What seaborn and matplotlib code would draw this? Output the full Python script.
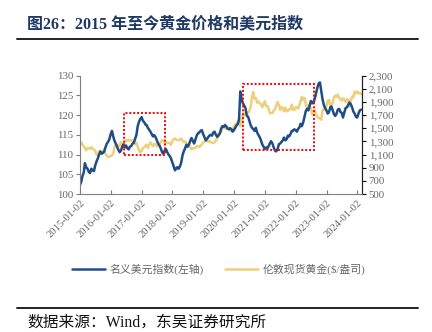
import numpy as np
import pandas as pd
import matplotlib
matplotlib.use("Agg")
import matplotlib.pyplot as plt
import matplotlib.dates as mdates
from matplotlib.patches import Rectangle
from matplotlib.lines import Line2D
import seaborn as sns

# ---------------- data (twice a month) ----------------
months = pd.date_range("2015-01-01", "2024-02-01", freq="MS")
dates = [d for m in months for d in (m, m + pd.Timedelta(days=15))]

usd_index = [
    102.3, 103.0, 104.6, 105.5, 107.8, 106.8, 106.4, 105.6, 105.3, 106.4, 106.0, 105.8,   # 2015 H1
    107.2, 108.2, 109.0, 110.0, 110.8, 110.2, 110.4, 110.8, 111.9, 112.8, 113.2, 113.9,   # 2015 H2
    115.2, 116.0, 114.5, 113.4, 112.8, 112.0, 111.2, 110.6, 111.0, 112.0, 112.6, 111.8,   # 2016 H1
    112.3, 111.6, 111.3, 112.0, 112.2, 112.8, 113.0, 114.0, 115.0, 117.2, 118.3, 119.0,   # 2016 H2
    119.5, 118.6, 118.2, 117.6, 117.5, 116.8, 116.3, 115.8, 115.2, 114.6, 114.9, 114.4,   # 2017 H1
    113.6, 112.8, 112.3, 111.6, 110.6, 110.2, 111.0, 111.4, 110.6, 110.0, 109.6, 109.0,   # 2017 H2
    108.0, 107.0, 106.0, 106.5, 106.8, 106.4, 107.0, 108.0, 109.8, 110.8, 111.6, 112.5,   # 2018 H1
    112.0, 112.5, 113.5, 114.2, 113.4, 112.8, 113.8, 114.8, 115.4, 115.6, 116.0, 116.2,   # 2018 H2
    115.2, 114.4, 113.6, 114.0, 114.4, 114.8, 115.0, 114.8, 115.6, 115.8, 115.0, 114.5,   # 2019 H1
    114.8, 115.3, 116.5, 117.2, 117.0, 117.5, 117.2, 116.6, 116.4, 116.7, 116.4, 115.8,   # 2019 H2
    116.2, 116.8, 117.4, 117.8, 118.8, 126.0, 124.0, 123.0, 122.4, 121.8, 119.8, 119.6,   # 2020 H1
    118.6, 117.5, 116.8, 116.5, 116.0, 116.8, 115.6, 115.0, 114.4, 113.6, 112.6, 112.0,   # 2020 H2
    111.4, 111.8, 111.6, 112.2, 112.8, 113.4, 112.8, 111.8, 111.0, 110.8, 111.4, 112.6,   # 2021 H1
    112.8, 113.2, 113.6, 114.3, 113.6, 113.9, 114.8, 114.6, 115.2, 116.0, 116.0, 116.4,   # 2021 H2
    116.2, 115.8, 116.6, 116.9, 117.8, 117.2, 118.2, 119.6, 121.0, 121.6, 121.2, 122.4,   # 2022 H1
    123.6, 123.0, 123.2, 124.2, 125.6, 127.0, 128.0, 128.3, 126.0, 124.0, 122.6, 121.8,   # 2022 H2
    121.2, 120.4, 120.8, 122.0, 122.2, 121.2, 120.2, 119.8, 120.4, 121.4, 121.6, 120.8,   # 2023 H1
    120.6, 119.4, 120.6, 121.8, 122.0, 122.6, 123.2, 122.8, 122.0, 120.9, 120.4, 119.6,   # 2023 H2
    119.4, 120.4, 121.2, 121.4,                                                           # 2024
]

gold_price = [
    1230, 1285, 1260, 1220, 1200, 1165, 1200, 1195, 1185, 1215, 1185, 1180,   # 2015 H1
    1160, 1100, 1090, 1150, 1135, 1130, 1140, 1175, 1110, 1080, 1065, 1070,   # 2015 H2
    1075, 1090, 1120, 1220, 1250, 1240, 1225, 1240, 1290, 1260, 1215, 1290,   # 2016 H1
    1320, 1310, 1325, 1315, 1310, 1320, 1300, 1255, 1280, 1220, 1170, 1140,   # 2016 H2
    1150, 1195, 1210, 1235, 1250, 1200, 1250, 1285, 1255, 1230, 1265, 1255,   # 2017 H1
    1225, 1235, 1265, 1285, 1320, 1310, 1275, 1290, 1275, 1280, 1275, 1250,   # 2017 H2
    1310, 1335, 1345, 1325, 1320, 1320, 1330, 1345, 1310, 1290, 1295, 1275,   # 2018 H1
    1250, 1235, 1215, 1180, 1200, 1195, 1200, 1225, 1230, 1215, 1235, 1250,   # 2018 H2
    1285, 1295, 1315, 1320, 1290, 1305, 1295, 1275, 1280, 1285, 1315, 1345,   # 2019 H1
    1415, 1415, 1440, 1510, 1525, 1505, 1490, 1495, 1510, 1470, 1460, 1480,   # 2019 H2
    1525, 1555, 1575, 1595, 1640, 1530, 1590, 1720, 1700, 1740, 1740, 1730,   # 2020 H1
    1770, 1810, 1970, 2050, 1950, 1960, 1890, 1910, 1880, 1870, 1820, 1860,   # 2020 H2
    1910, 1840, 1840, 1790, 1730, 1730, 1730, 1770, 1790, 1840, 1900, 1860,   # 2021 H1
    1780, 1820, 1810, 1760, 1815, 1760, 1760, 1790, 1790, 1860, 1780, 1780,   # 2021 H2
    1820, 1820, 1800, 1860, 1910, 1980, 1930, 1960, 1870, 1820, 1850, 1830,   # 2022 H1
    1810, 1710, 1760, 1780, 1710, 1670, 1660, 1650, 1630, 1770, 1790, 1790,   # 2022 H2
    1840, 1920, 1930, 1840, 1830, 1900, 1970, 2000, 1980, 2010, 1960, 1950,   # 2023 H1
    1920, 1955, 1940, 1900, 1940, 1930, 1830, 1920, 1980, 1970, 2060, 2030,   # 2023 H2
    2060, 2030, 2040, 2020,                                                   # 2024
]

year_ticks = [f"{y}-01-02" for y in range(2015, 2025)]
left_ticks = [100, 105, 110, 115, 120, 125, 130]
right_ticks = [500, 700, 900, 1100, 1300, 1500, 1700, 1900, 2100, 2300]

label_usd = "名义美元指数(左轴)"
label_gold = "伦敦现货黄金($/盎司)"
title = "图26：2015 年至今黄金价格和美元指数"
source = "数据来源：Wind，东吴证券研究所"

# highlighted periods (date range, left-axis value range)
box1 = ("2016-06-06", "2017-10-05", 110.0, 120.5)
box2 = ("2020-04-13", "2022-08-10", 111.2, 128.0)

df = pd.DataFrame({"date": dates, "usd": usd_index, "gold": gold_price})

# ---------------- style ----------------
sns.set_theme(style="white")
plt.rcParams["font.family"] = ["Liberation Serif", "Noto Sans CJK SC", "DejaVu Sans"]

BLUE = "#1F4E86"
GOLD = "#EDCF7C"
GREY = "#666666"

fig = plt.figure(figsize=(4.32, 3.32), dpi=100)
ax = fig.add_axes([80 / 432, 1 - 194 / 332, (361.7 - 80) / 432, (194 - 75.7) / 332])
ax2 = ax.twinx()

sns.lineplot(data=df, x="date", y="gold", ax=ax2, color=GOLD, lw=1.8, legend=False)
sns.lineplot(data=df, x="date", y="usd", ax=ax, color=BLUE, lw=1.8, legend=False)
ax.set_zorder(ax2.get_zorder() + 1)
ax.patch.set_visible(False)

ax.set_xlim(pd.Timestamp("2015-01-02"), pd.Timestamp("2024-02-23"))
ax.set_ylim(100, 130)
ax2.set_ylim(500, 2300)
ax.set_yticks(left_ticks)
ax.set_yticklabels([str(v) for v in left_ticks])
ax2.set_yticks(right_ticks)
ax2.set_yticklabels([f"{v:,}" for v in right_ticks])
ax.set_xticks([pd.Timestamp(t) for t in year_ticks])
ax.set_xticklabels(year_ticks, rotation=45, ha="right", rotation_mode="anchor")
ax.set_xlabel("")
ax.set_ylabel("")
ax2.set_ylabel("")

for a in (ax, ax2):
    a.spines["top"].set_visible(False)
    a.grid(False)
ax.spines["left"].set_color("#7f7f7f")
ax.spines["bottom"].set_color("#7f7f7f")
ax2.spines["right"].set_color("#000000")
ax2.spines["left"].set_visible(False)
ax2.spines["bottom"].set_visible(False)
for s in ax.spines.values():
    s.set_linewidth(0.8)
ax2.spines["right"].set_linewidth(0.8)

ax.tick_params(axis="y", direction="out", length=3, width=0.8, color="#7f7f7f",
               labelsize=7.8, labelcolor=GREY, pad=2, left=True)
ax.tick_params(axis="x", direction="in", length=3, width=0.8, color="#7f7f7f",
               labelsize=7.6, labelcolor=GREY, pad=3, bottom=True)
ax2.tick_params(axis="y", direction="out", length=3, width=0.8, color="#000000",
                labelsize=7.8, labelcolor=GREY, pad=2, right=True)

# red dotted highlight boxes
for b in (box1, box2):
    x0 = mdates.date2num(pd.Timestamp(b[0]))
    x1 = mdates.date2num(pd.Timestamp(b[1]))
    ax.add_patch(Rectangle((x0, b[2]), x1 - x0, b[3] - b[2], fill=False,
                           edgecolor="#FF0000", lw=1.4, ls=(0, (1, 1)), zorder=5))

# legend
handles = [Line2D([], [], color=BLUE, lw=1.8), Line2D([], [], color=GOLD, lw=1.8)]
leg = fig.legend(handles, [label_usd, label_gold], loc="center",
                 bbox_to_anchor=(0.506, 1 - 269 / 332), ncol=2, frameon=False,
                 fontsize=7.8, handlelength=3.0, columnspacing=2.0, handletextpad=0.45)
for t in leg.get_texts():
    t.set_color(GREY)

# title, rules, source
fig.text(27 / 432, 1 - 24 / 332, title, fontsize=11.5, fontweight="bold",
         color="#1F3864", va="center", ha="left")
fig.add_artist(Line2D([17 / 432, 418 / 432], [1 - 38.7 / 332] * 2, color="#222222", lw=1.4))
fig.add_artist(Line2D([17 / 432, 418 / 432], [1 - 308.3 / 332] * 2, color="#222222", lw=1.4))
fig.text(27 / 432, 1 - 322.5 / 332, source, fontsize=11.3, color="#111111",
         va="center", ha="left")

fig.savefig("out.png", dpi=100)
